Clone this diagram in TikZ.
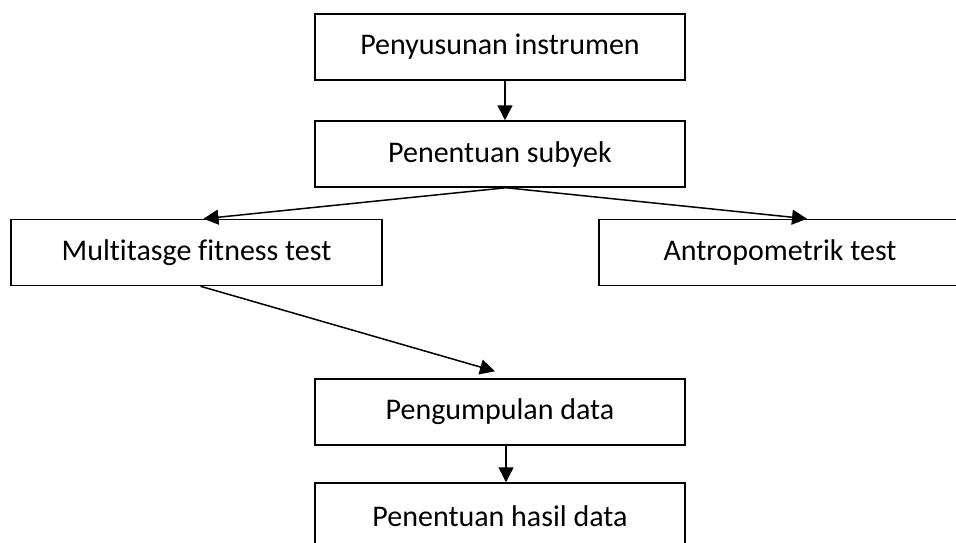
\documentclass[tikz,border=0pt]{standalone}
\usepackage{fontspec}
\setmainfont[Ligatures=NoCommon]{Carlito}
\usetikzlibrary{arrows.meta}

\begin{document}
\begin{tikzpicture}[x=1pt,y=-1pt,
    box/.style={draw,line width=1.5pt,minimum width=370pt,minimum height=66pt,
      inner sep=0pt,font=\fontsize{30}{36}\selectfont},
    arr/.style={line width=1.5pt,-{Triangle[length=15pt,width=15pt]}}]
        \useasboundingbox (0,0) rectangle (956,542);
        \clip (0,0) rectangle (956,542);

        \node[box] (instr)  at (500,47)    {Penyusunan instrumen};
        \node[box] (subyek) at (500,154)   {Penentuan subyek};
        \node[box,minimum width=371pt] (multi) at (196.5,252.5) {Multitasge fitness test};
        \node[box,minimum width=362pt] (antro) at (780,252.5)   {Antropometrik test};
        \node[box] (kumpul) at (500,412)   {Pengumpulan data};
        \node[box] (hasil)  at (500,516)   {Penentuan hasil data};

        \draw[arr] ([xshift=5pt]instr.south) -- ([xshift=5pt]subyek.north);
        \draw[arr] ([xshift=6pt]subyek.south) -- ([xshift=7pt]multi.north);
        \draw[arr] ([xshift=6pt]subyek.south) -- ([xshift=27pt]antro.north);
        \draw[arr] ([xshift=4pt]multi.south) -- ([xshift=-5pt,yshift=7pt]kumpul.north);
        \draw[arr] ([xshift=6pt]kumpul.south) -- ([xshift=6pt]hasil.north);
      \end{tikzpicture}
\end{document}
